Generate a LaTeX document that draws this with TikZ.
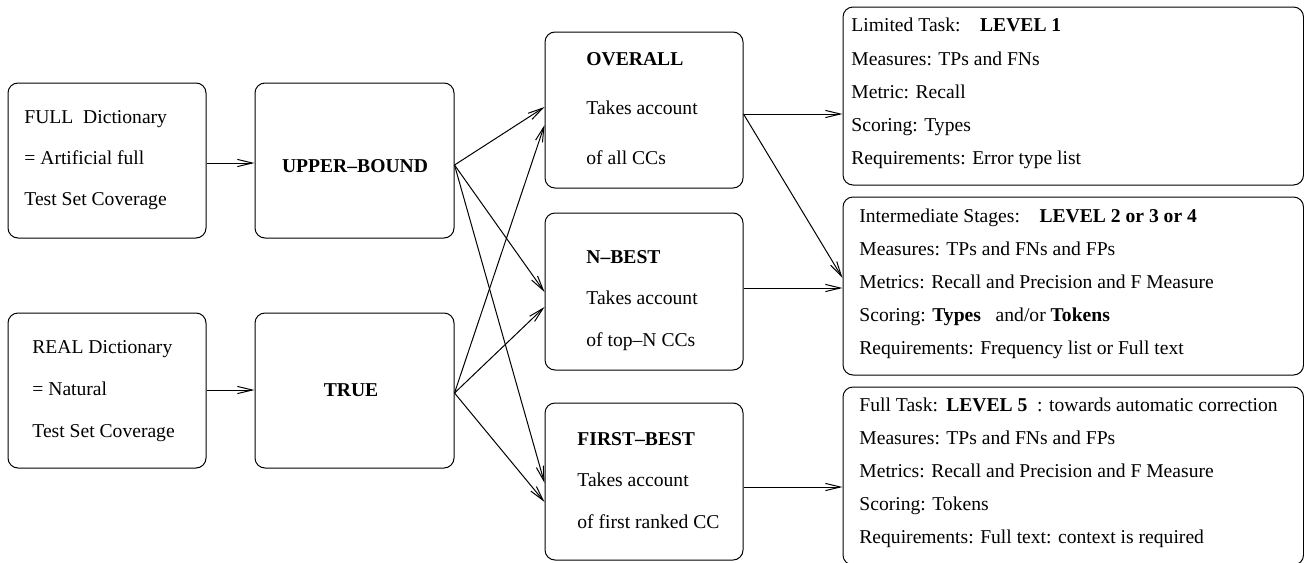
\documentclass[tikz,border=0pt]{standalone}
\usepackage{fontspec}
\setmainfont{Liberation Serif}
\usetikzlibrary{arrows.meta}
\begin{document}
\begin{tikzpicture}[x=0.5pt,y=-0.5pt,
  box/.style={draw, rounded corners=5pt, line width=0.5pt, inner sep=0pt, minimum width=99pt},
  wide/.style={box, minimum width=230.25pt, minimum height=89pt},
  txt/.style={anchor=base west, inner sep=0pt, font=\fontsize{9.8}{12}\selectfont},
  ctxt/.style={anchor=base, inner sep=0pt, font=\fontsize{9.8}{12}\selectfont\bfseries},
  conn/.style={line width=0.5pt, -{Straight Barb[length=7.5pt,width=3.6pt]}}]
\clip (0,0) rectangle (1304,562);
% boxes
\node[box, minimum height=77.5pt] (A) at (107,160.5) {};
\node[box, minimum width=99.5pt, minimum height=77.5pt] (B) at (354.5,160.5) {};
\node[box, minimum height=77.5pt] (C) at (107,390.5) {};
\node[box, minimum width=99.5pt, minimum height=77.5pt] (D) at (354.5,390.5) {};
\node[box, minimum height=78pt] (E) at (644,110) {};
\node[box, minimum height=78.5pt] (F) at (644,291.5) {};
\node[box, minimum height=78.5pt] (G) at (644,481.5) {};
\node[wide] (H) at (1073.25,96) {};
\node[wide] (I) at (1073.25,286) {};
\node[wide] (J) at (1073.25,476) {};
% texts
\node[txt] (a1) at (24,123) {FULL\ \ Dictionary};
\node[txt] (a2) at (24,164) {= Artificial full};
\node[txt] (a3) at (24,205) {Test Set Coverage};
\node[ctxt] (b1) at (355,172) {UPPER--BOUND};
\node[txt] (c1) at (32,353) {REAL Dictionary};
\node[txt] (c2) at (32,395) {= Natural};
\node[txt] (c3) at (32,437) {Test Set Coverage};
\node[ctxt] (d1) at (351,396) {TRUE};
\node[txt] (e1) at (586,65) {\bfseries OVERALL};
\node[txt] (e2) at (586,114) {Takes account};
\node[txt] (e3) at (586,164) {of all CCs};
\node[txt] (f1) at (586,263) {\bfseries N--BEST};
\node[txt] (f2) at (586,304) {Takes account};
\node[txt] (f3) at (586,346) {of top--N CCs};
\node[txt] (g1) at (577,445) {\bfseries FIRST--BEST};
\node[txt] (g2) at (577,486) {Takes account};
\node[txt] (g3) at (577,528) {of first ranked CC};
\node[txt] (h1) at (851,32) {Limited Task:\quad\textbf{LEVEL 1}};
\node[txt] (h2) at (851,65) {Measures: TPs and FNs};
\node[txt] (h3) at (851,98) {Metric: Recall};
\node[txt] (h4) at (851,131) {Scoring: Types};
\node[txt] (h5) at (851,164) {Requirements: Error type list};
\node[txt] (i1) at (859,222) {Intermediate Stages:\quad\textbf{LEVEL 2 or 3 or 4}};
\node[txt] (i2) at (859,255) {Measures: TPs and FNs and FPs};
\node[txt] (i3) at (859,288) {Metrics: Recall and Precision and F Measure};
\node[txt] (i4) at (859,321) {Scoring: \textbf{Types}\ \ \ and/or \textbf{Tokens}};
\node[txt] (i5) at (859,354) {Requirements: Frequency list or Full text};
\node[txt] (j1) at (859,411) {Full Task:\ \,\textbf{LEVEL 5}\ \ : towards automatic correction};
\node[txt] (j2) at (859,444) {Measures: TPs and FNs and FPs};
\node[txt] (j3) at (859,477) {Metrics: Recall and Precision and F Measure};
\node[txt] (j4) at (859,510) {Scoring: Tokens};
\node[txt] (j5) at (859,543) {Requirements: Full text: context is required};
% connection points
\coordinate (Bo) at (B.east |- 0,165);
\coordinate (Do) at (D.east |- 0,393);
\coordinate (Eo) at (E.east |- 0,114);
% connectors
\draw[conn] (A.east |- 0,163) -- (B.west |- 0,163);
\draw[conn] (C.east |- 0,390) -- (D.west |- 0,390);
\draw[conn] (Bo) -- (E.west |- 0,107);
\draw[conn] (Bo) -- (F.west |- 0,292);
\draw[conn] (Bo) -- (G.west |- 0,483);
\draw[conn] (Do) -- (E.west |- 0,125);
\draw[conn] (Do) -- (F.west |- 0,307);
\draw[conn] (Do) -- (G.west |- 0,502);
\draw[conn] (Eo) -- (H.west |- 0,114);
\draw[conn] (Eo) -- (I.west |- 0,278);
\draw[conn] (F.east |- 0,288) -- (I.west |- 0,288);
\draw[conn] (G.east |- 0,487) -- (J.west |- 0,487);
\end{tikzpicture}
\end{document}
